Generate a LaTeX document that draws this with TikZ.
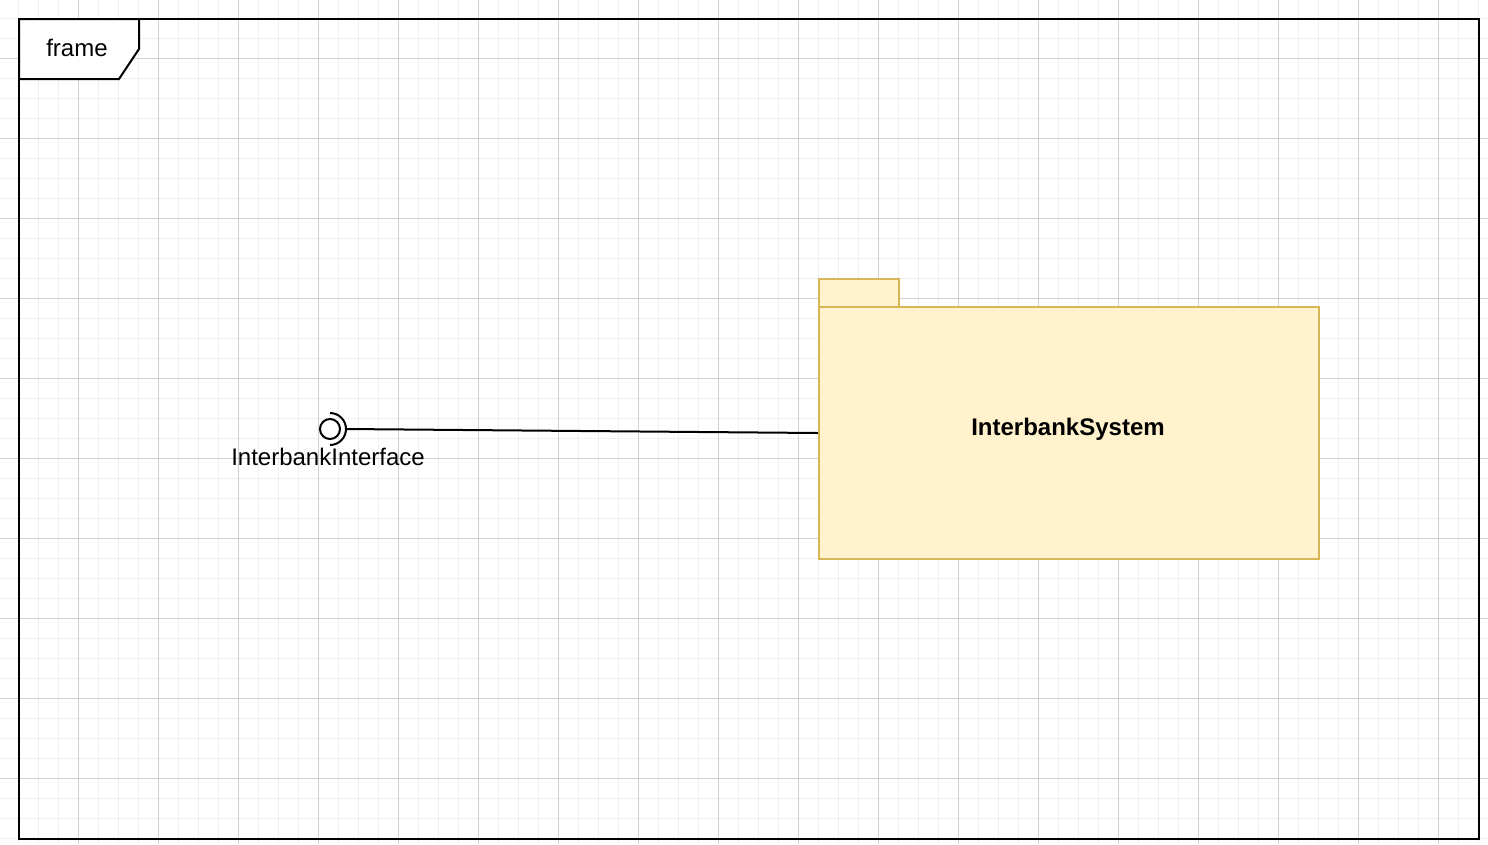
\documentclass[tikz,border=0pt]{standalone}
\usepackage{fontspec}
\setmainfont{Liberation Sans}
\definecolor{minorgrid}{HTML}{EFEFEF}
\definecolor{majorgrid}{HTML}{D0D0D0}
\definecolor{pkgfill}{HTML}{FFF2CC}
\definecolor{pkgdraw}{HTML}{D6B656}
\begin{document}
\begin{tikzpicture}[x=1pt,y=-1pt,
  lbl/.style={font=\fontsize{24}{28}\selectfont, inner sep=0pt},
  pkgbox/.style={draw=pkgdraw, fill=pkgfill, line width=2pt, inner sep=0pt},
  conn/.style={line width=2pt, draw=black},
]
\useasboundingbox (0,0) rectangle (1488,844);
\fill[white] (0,0) rectangle (1488,844);
% grid
\foreach \x in {18,38,...,1488} \draw[minorgrid, line width=1pt] (\x,0) -- (\x,844);
\foreach \y in {18,38,...,844} \draw[minorgrid, line width=1pt] (0,\y) -- (1488,\y);
\foreach \x in {78,158,...,1488} \draw[majorgrid, line width=1pt] (\x,0) -- (\x,844);
\foreach \y in {58,138,...,844} \draw[majorgrid, line width=1pt] (0,\y) -- (1488,\y);
% frame
\draw[line width=2pt] (19,19) rectangle (1479,839);
\draw[line width=2pt, fill=white] (19,19) -- (139,19) -- (139,49) -- (119,79) -- (19,79) -- cycle;
\node[lbl] (frametitle) at (77,48) {frame};
% package
\node[pkgbox, minimum width=80pt, minimum height=28pt] (pkgtab) at (859,293) {};
\node[pkgbox, minimum width=500pt, minimum height=252pt] (pkg) at (1069,433) {};
\node[lbl, font=\fontsize{24}{28}\selectfont\bfseries] (pkgname) at (1068,429) {InterbankSystem};
% interface
\node[draw, circle, line width=2pt, minimum size=20pt, inner sep=0pt] (iface) at (330,429) {};
\draw[line width=2pt] (330,413) arc[start angle=90, end angle=-90, radius=16pt];
\coordinate (sock) at (346,429);
\node[lbl] (ifacename) at (328,457) {InterbankInterface};
\draw[conn] (sock) -- (pkg.west);
\end{tikzpicture}
\end{document}
